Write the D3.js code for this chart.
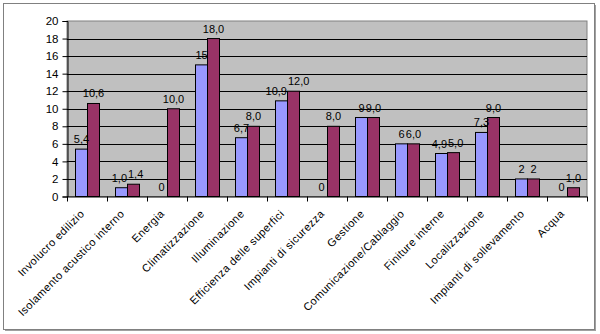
<!DOCTYPE html>
<html>
<head>
<meta charset="utf-8">
<script src="https://cdn.jsdelivr.net/npm/d3@7/dist/d3.min.js"></script>
<style>
  html, body { margin: 0; padding: 0; background: #fff; }
  svg { display: block; font-family: "Liberation Sans", Arial, sans-serif; }
</style>
</head>
<body>
<svg id="chart" width="600" height="334"></svg>
<script>
// Categories and the two series
const categories = [
  "Involucro edilizio",
  "Isolamento acustico interno",
  "Energia",
  "Climatizzazione",
  "Illuminazione",
  "Efficienza delle superfici",
  "Impianti di sicurezza",
  "Gestione",
  "Comunicazione/Cablaggio",
  "Finiture interne",
  "Localizzazione",
  "Impianti di sollevamento",
  "Acqua"
];
const seriesA = [5.4, 1.0, 0, 15, 6.7, 10.9, 0, 9, 6, 4.9, 7.3, 2, 0];
const seriesB = [10.6, 1.4, 10.0, 18.0, 8.0, 12.0, 8.0, 9.0, 6.0, 5.0, 9.0, 2, 1.0];
// Printed labels (some values are shown with one decimal, some without)
const labelsA = ["5,4", "1,0", "0", "15", "6,7", "10,9", "0", "9", "6", "4,9", "7,3", "2", "0"];
const labelsB = ["10,6", "1,4", "10,0", "18,0", "8,0", "12,0", "8,0", "9,0", "6,0", "5,0", "9,0", "2", "1,0"];
const yTicks = [0, 2, 4, 6, 8, 10, 12, 14, 16, 18, 20];

const seriesNames = ["A", "B"];
const colors = { A: "#9999FF", B: "#993366" };

const svg = d3.select("#chart");

// Outer frame with a soft shadow on the right and bottom
svg.append("rect").attr("x", 5).attr("y", 5).attr("width", 591).attr("height", 326).attr("fill", "#a0a0a0");
svg.append("rect").attr("x", 3.5).attr("y", 3.5).attr("width", 591).attr("height", 326)
  .attr("fill", "#fff").attr("stroke", "#808080").attr("stroke-width", 1);

const plot = { left: 67, right: 587, top: 21, bottom: 196.5 };

const x = d3.scaleBand().domain(categories).range([plot.left, plot.right])
  .paddingInner(0.4).paddingOuter(0.2);
const xs = d3.scaleBand().domain(seriesNames).range([0, x.bandwidth()]);
const y = d3.scaleLinear().domain([0, 20]).range([plot.bottom, plot.top]);

// Plot area
svg.append("rect")
  .attr("x", plot.left).attr("y", plot.top)
  .attr("width", plot.right - plot.left).attr("height", plot.bottom - plot.top)
  .attr("fill", "#C0C0C0").attr("stroke", "#808080").attr("stroke-width", 1);

// Horizontal gridlines
svg.append("g").selectAll("line")
  .data(yTicks.filter(t => t > 0 && t < 20))
  .join("line")
  .attr("x1", plot.left).attr("x2", plot.right)
  .attr("y1", d => Math.round(y(d)) + 0.5).attr("y2", d => Math.round(y(d)) + 0.5)
  .attr("stroke", "#000").attr("stroke-width", 1);

// Bars
const groups = svg.append("g").selectAll("g")
  .data(categories.map((c, i) => ({ c, i })))
  .join("g")
  .attr("transform", d => `translate(${x(d.c)},0)`);

const rows = d => [
  { s: "A", v: seriesA[d.i], label: labelsA[d.i] },
  { s: "B", v: seriesB[d.i], label: labelsB[d.i] }
];

groups.selectAll("rect")
  .data(rows)
  .join("rect")
  .filter(d => d.v > 0)
  .attr("x", d => xs(d.s) + 0.5)
  .attr("y", d => y(d.v))
  .attr("width", xs.bandwidth())
  .attr("height", d => y(0) - y(d.v))
  .attr("fill", d => colors[d.s])
  .attr("stroke", "#000").attr("stroke-width", 1);

// Data labels above each bar
groups.each(function () {
  const g = d3.select(this);
  const labels = g.selectAll("text")
    .data(rows)
    .join("text")
    .attr("x", d => xs(d.s) + xs.bandwidth() / 2 + 0.5)
    .attr("y", d => y(d.v) - 6)
    .attr("text-anchor", "middle")
    .attr("font-size", 11)
    .attr("fill", "#000")
    .text(d => d.label);

  // Push the pair apart sideways when the two labels would collide
  const [a, b] = labels.nodes();
  const da = d3.select(a).datum(), db = d3.select(b).datum();
  const wa = a.getComputedTextLength(), wb = b.getComputedTextLength();
  const ca = +a.getAttribute("x"), cb = +b.getAttribute("x");
  const overlap = (ca + wa / 2) - (cb - wb / 2) + 1;
  if (Math.abs(y(da.v) - y(db.v)) < 11 && overlap > 0) {
    d3.select(a).attr("x", ca - overlap / 2);
    d3.select(b).attr("x", cb + overlap / 2);
  }
});

// Y axis
const yAxis = d3.axisLeft(y).tickValues(yTicks).tickSize(5).tickPadding(4)
  .tickFormat(d3.format("d"));
const gy = svg.append("g").attr("transform", `translate(${plot.left + 0.5},0)`).call(yAxis);
gy.select(".domain").attr("stroke", "#000");
gy.selectAll(".tick line").attr("stroke", "#000");
gy.selectAll(".tick text").attr("font-size", 11.5).attr("fill", "#000")
  .attr("font-family", "'Liberation Sans', Arial, sans-serif");

// X axis line with tick marks between categories
const xAxisG = svg.append("g");
xAxisG.append("line")
  .attr("x1", plot.left).attr("x2", plot.right)
  .attr("y1", plot.bottom + 0.5).attr("y2", plot.bottom + 0.5)
  .attr("stroke", "#000");
const boundaries = d3.range(categories.length + 1).map(i => plot.left + i * x.step());
xAxisG.selectAll(".sep")
  .data(boundaries)
  .join("line")
  .attr("class", "sep")
  .attr("x1", d => Math.round(d) + 0.5).attr("x2", d => Math.round(d) + 0.5)
  .attr("y1", plot.bottom).attr("y2", plot.bottom + 5)
  .attr("stroke", "#000");

// Rotated category labels
xAxisG.selectAll(".cat")
  .data(categories)
  .join("text")
  .attr("class", "cat")
  .attr("font-size", 11)
  .attr("letter-spacing", 0.4)
  .attr("fill", "#000")
  .attr("text-anchor", "end")
  .attr("transform", d => `translate(${x(d) + x.bandwidth() / 2 - 2},${plot.bottom + 18}) rotate(-45)`)
  .text(d => d);
</script>
</body>
</html>
